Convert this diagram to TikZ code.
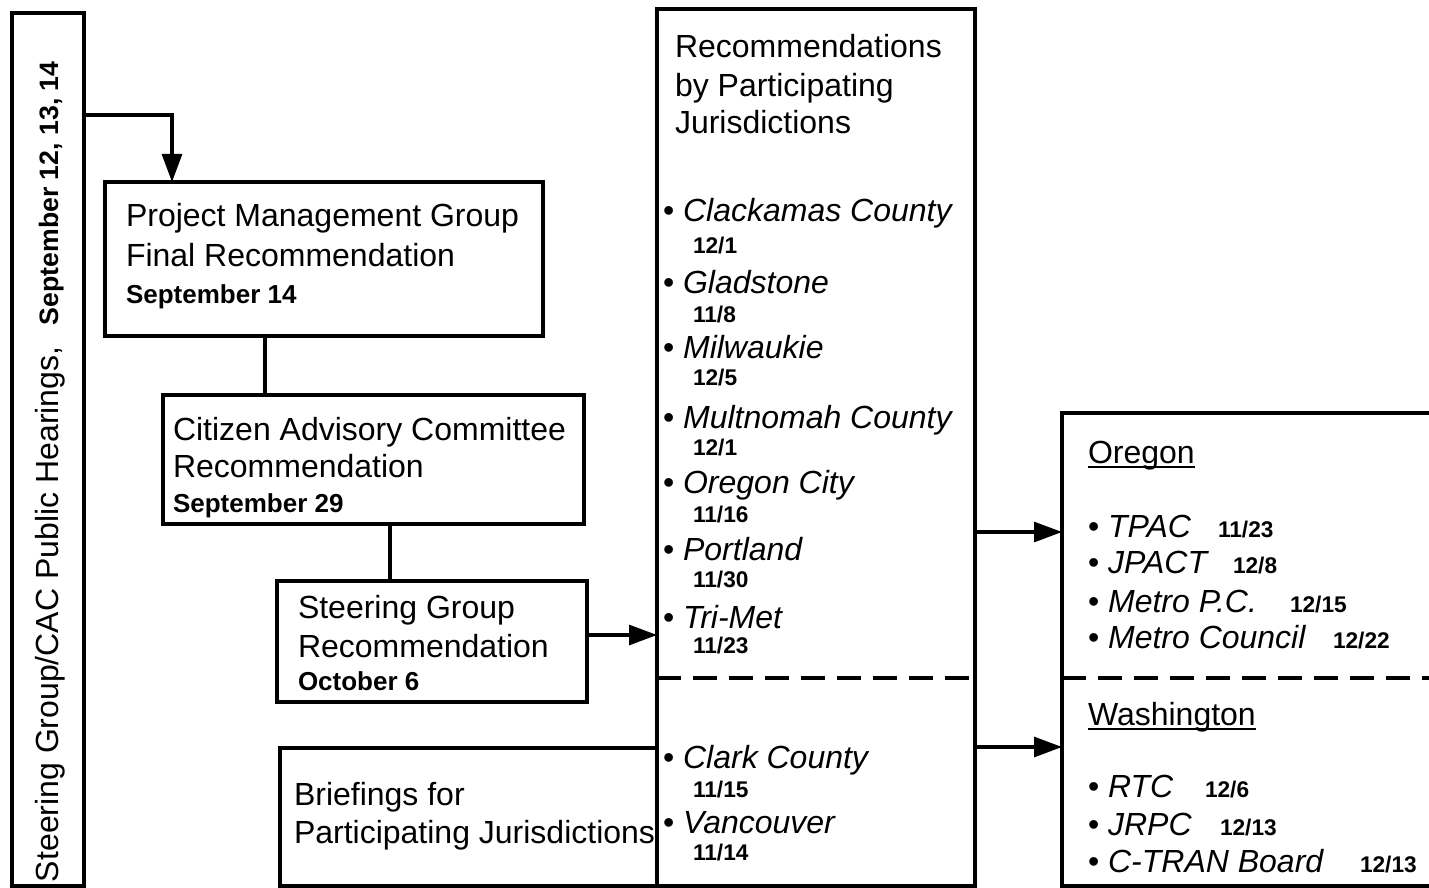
\documentclass[tikz,border=0pt]{standalone}
\usepackage{fontspec}
\setmainfont{Liberation Sans}
\usetikzlibrary{arrows.meta,fit}
\begin{document}
\begin{tikzpicture}[x=0.75pt,y=-0.75pt,
  box/.style={draw, line width=2.3pt, inner sep=0pt, outer sep=0pt},
  conn/.style={line width=2.3pt},
  arr/.style={line width=2.3pt, -{Triangle[length=21pt,width=15pt]}},
  dashline/.style={line width=2.3pt, dash pattern=on 18pt off 9pt},
  ul/.style={line width=1.4pt},
  txt/.style={anchor=base west, inner sep=0pt, outer sep=0pt, font=\fontsize{24}{28}\selectfont},
  itm/.style={txt},
  bd/.style={anchor=base west, inner sep=0pt, outer sep=0pt, font=\fontsize{19.5}{23}\selectfont\bfseries},
  dt/.style={anchor=base west, inner sep=0pt, outer sep=0pt, font=\fontsize{17}{20}\selectfont\bfseries}
]
\useasboundingbox (0,0) rectangle (1429,888);
\clip (0,0) rectangle (1429,888);

% boxes
\node[box, fit={(12,13) (84,886)}] (lb) {};
\node[box, fit={(105,182) (543,336)}] (pmg) {};
\node[box, fit={(163,395) (584,524)}] (cac) {};
\node[box, fit={(277,581) (587,702)}] (sg) {};
\node[box, fit={(280,748) (657,886)}] (br) {};
\node[box, fit={(657,9) (975,886)}] (mid) {};
\node[box, fit={(1062,413) (1450,886)}] (rb) {};

% left vertical text
\node[txt, rotate=90] (lbt) at (58,882) {Steering Group/CAC Public Hearings,\hspace{16pt}{\fontsize{20}{24}\selectfont\bfseries September 12, 13, 14}};

% PMG
\node[txt] (p1) at (126,227) {Project Management Group};
\node[txt] (p2) at (126,267) {Final Recommendation};
\node[bd] (p3) at (126,303) {September 14};
% CAC
\node[txt] (c1) at (173,440) {Citizen Advisory Committee};
\node[txt] (c2) at (173,477) {Recommendation};
\node[bd] (c3) at (173,512) {September 29};
% SG
\node[txt] (s1) at (298,618) {Steering Group};
\node[txt] (s2) at (298,657) {Recommendation};
\node[bd] (s3) at (298,690) {October 6};
% Briefings
\node[txt] (b1) at (294,805) {Briefings for};
\node[txt] (b2) at (294,843) {Participating Jurisdictions};

% middle heading
\node[txt] (h1) at (675,58) {Recommendations};
\node[txt] (h2) at (675,97) {by Participating};
\node[txt] (h3) at (675,134) {Jurisdictions};

% middle items
\node[itm] (m1) at (663,222) {\textbullet\ \textit{Clackamas County}};
\node[dt] (md1) at (693,253) {12/1};
\node[itm] (m2) at (663,293) {\textbullet\ \textit{Gladstone}};
\node[dt] (md2) at (693,322) {11/8};
\node[itm] (m3) at (663,358) {\textbullet\ \textit{Milwaukie}};
\node[dt] (md3) at (693,385) {12/5};
\node[itm] (m4) at (663,428) {\textbullet\ \textit{Multnomah County}};
\node[dt] (md4) at (693,455) {12/1};
\node[itm] (m5) at (663,493) {\textbullet\ \textit{Oregon City}};
\node[dt] (md5) at (693,522) {11/16};
\node[itm] (m6) at (663,560) {\textbullet\ \textit{Portland}};
\node[dt] (md6) at (693,587) {11/30};
\node[itm] (m7) at (663,628) {\textbullet\ \textit{Tri-Met}};
\node[dt] (md7) at (693,653) {11/23};
\node[itm] (m8) at (663,768) {\textbullet\ \textit{Clark County}};
\node[dt] (md8) at (693,797) {11/15};
\node[itm] (m9) at (663,833) {\textbullet\ \textit{Vancouver}};
\node[dt] (md9) at (693,860) {11/14};

% right box
\node[txt] (or) at (1088,463) {Oregon};
\draw[ul] ([yshift=-3pt]or.base west) -- ([yshift=-3pt]or.base east);
\node[itm] (r1) at (1088,537) {\textbullet\ \textit{TPAC}};
\node[dt] (rd1) at (1218,537) {11/23};
\node[itm] (r2) at (1088,573) {\textbullet\ \textit{JPACT}};
\node[dt] (rd2) at (1233,573) {12/8};
\node[itm] (r3) at (1088,612) {\textbullet\ \textit{Metro P.C.}};
\node[dt] (rd3) at (1290,612) {12/15};
\node[itm] (r4) at (1088,648) {\textbullet\ \textit{Metro Council}};
\node[dt] (rd4) at (1333,648) {12/22};
\node[txt] (wa) at (1088,725) {Washington};
\draw[ul] ([yshift=-3pt]wa.base west) -- ([yshift=-3pt]wa.base east);
\node[itm] (r5) at (1088,797) {\textbullet\ \textit{RTC}};
\node[dt] (rd5) at (1205,797) {12/6};
\node[itm] (r6) at (1088,835) {\textbullet\ \textit{JRPC}};
\node[dt] (rd6) at (1220,835) {12/13};
\node[itm] (r7) at (1088,872) {\textbullet\ \textit{C-TRAN Board}};
\node[dt] (rd7) at (1360,872) {12/13};

% dashed separators
\draw[dashline] (mid.west |- 0,678) -- (mid.east |- 0,678);
\draw[dashline] (rb.west |- 0,678) -- (1429,678);

% connectors
\draw[arr] (lb.east |- 0,115) -| (pmg.north -| 172,0);
\draw[conn] (pmg.south -| 265,0) -- (cac.north -| 265,0);
\draw[conn] (cac.south -| 390,0) -- (sg.north -| 390,0);
\draw[arr] (sg.east |- 0,635) -- (mid.west |- 0,635);
\draw[arr] (mid.east |- 0,532) -- (rb.west |- 0,532);
\draw[arr] (mid.east |- 0,747) -- (rb.west |- 0,747);
\end{tikzpicture}
\end{document}
